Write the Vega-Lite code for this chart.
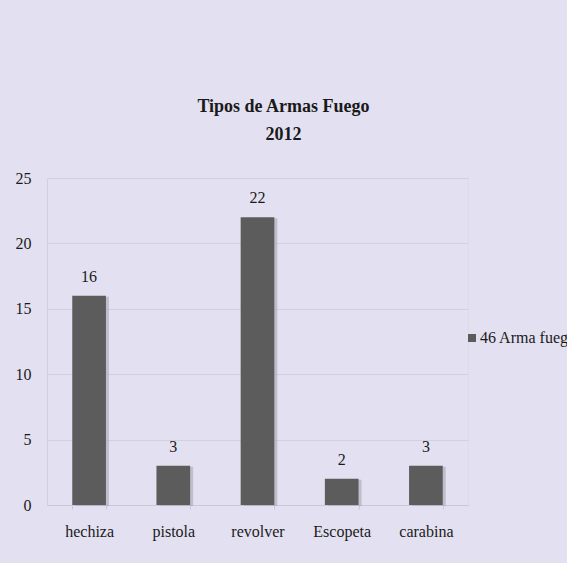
{
  "$schema": "https://vega.github.io/schema/vega-lite/v6.json",
  "width": 421,
  "height": 327,
  "autosize": {"type": "none"},
  "padding": {"left": 47, "top": 178, "right": 99, "bottom": 58},
  "background": "#e3e1f1",
  "title": {
    "text": ["Tipos de Armas Fuego", "2012"],
    "frame": "group",
    "anchor": "middle",
    "dx": 26,
    "offset": 8,
    "baseline": "bottom",
    "lineHeight": 28,
    "font": "Liberation Serif",
    "fontSize": 18,
    "fontWeight": "bold",
    "color": "#1a1a1a"
  },
  "data": {
    "values": [
      {"tipo": "hechiza", "cantidad": 16, "serie": "46 Arma fuego"},
      {"tipo": "pistola", "cantidad": 3, "serie": "46 Arma fuego"},
      {"tipo": "revolver", "cantidad": 22, "serie": "46 Arma fuego"},
      {"tipo": "Escopeta", "cantidad": 2, "serie": "46 Arma fuego"},
      {"tipo": "carabina", "cantidad": 3, "serie": "46 Arma fuego"}
    ]
  },
  "encoding": {
    "x": {
      "field": "tipo",
      "type": "nominal",
      "sort": null,
      "scale": {"paddingInner": 0.6, "paddingOuter": 0.3},
      "axis": {
        "title": null,
        "labelAngle": 0,
        "labelFont": "Liberation Serif",
        "labelFontSize": 16,
        "labelColor": "#1a1a1a",
        "labelPadding": 14,
        "domainColor": "#c9c7d8",
        "tickColor": "#c9c7d8",
        "tickBand": "extent",
        "tickSize": 4,
        "grid": false
      }
    },
    "y": {
      "field": "cantidad",
      "type": "quantitative",
      "scale": {"domain": [0, 25]},
      "axis": {
        "title": null,
        "values": [0, 5, 10, 15, 20, 25],
        "labelFont": "Liberation Serif",
        "labelFontSize": 16,
        "labelColor": "#1a1a1a",
        "labelPadding": 16,
        "ticks": false,
        "domain": true,
        "domainColor": "#d2d0e0",
        "gridColor": "#d2d0e0"
      }
    }
  },
  "layer": [
    {
      "mark": {"type": "bar", "xOffset": 3, "yOffset": 1, "color": "#a9a7b6", "opacity": 0.6},
      "encoding": {}
    },
    {
      "mark": {"type": "bar"},
      "encoding": {
        "color": {
          "field": "serie",
          "type": "nominal",
          "scale": {"range": ["#5c5c5c"]},
          "legend": {
            "title": null,
            "orient": "none",
            "legendX": 417,
            "legendY": 152,
            "symbolType": "square",
            "symbolSize": 64,
            "symbolStrokeWidth": 0,
            "labelFont": "Liberation Serif",
            "labelFontSize": 16,
            "labelColor": "#1a1a1a",
            "labelOffset": 0,
            "padding": 0
          }
        }
      }
    },
    {
      "mark": {"type": "text", "dy": -11, "baseline": "bottom", "font": "Liberation Serif", "fontSize": 16, "color": "#1a1a1a"},
      "encoding": {"text": {"field": "cantidad", "type": "quantitative"}}
    }
  ]
}
